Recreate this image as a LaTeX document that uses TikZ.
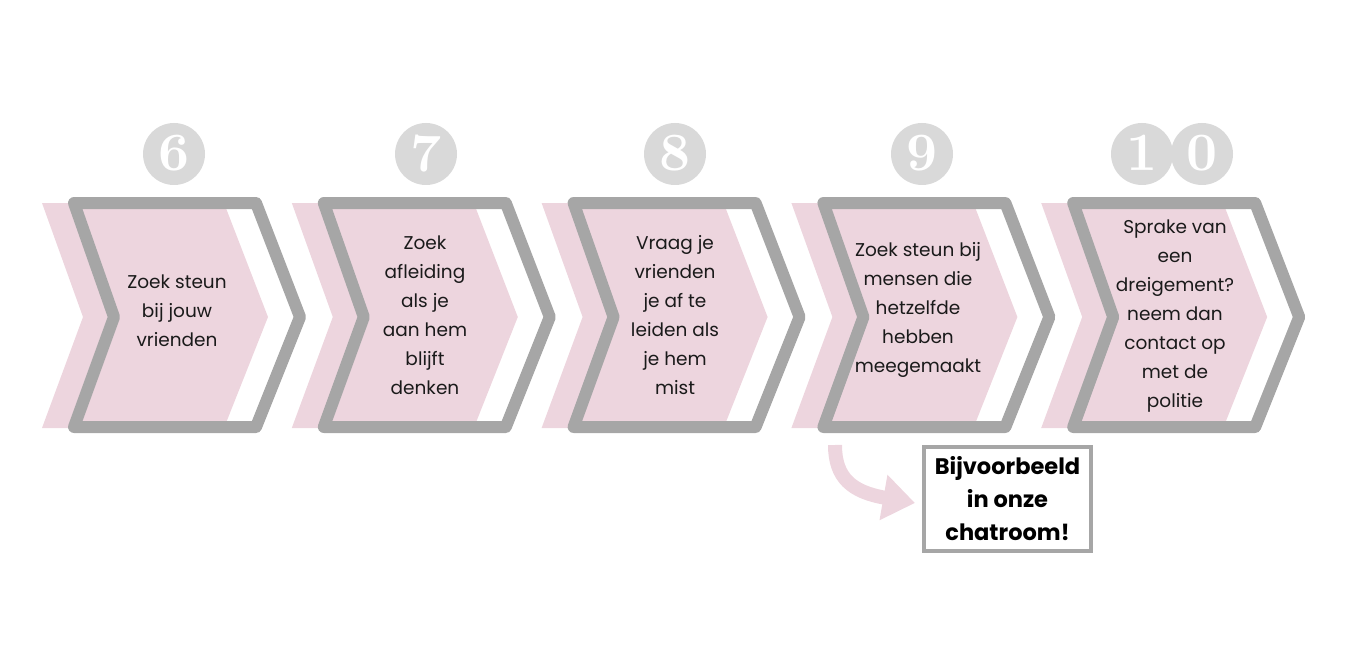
\documentclass[tikz,border=0pt]{standalone}
\usepackage{fontspec}
\setmainfont{Poppins}
\newfontfamily\digitfont{lmroman10-bold.otf}
\usetikzlibrary{arrows.meta}
\definecolor{pk}{HTML}{EDD5DE}
\definecolor{gr}{HTML}{A6A6A6}
\definecolor{cg}{HTML}{D9D9D9}
\definecolor{tx}{HTML}{1A1A1A}
\tikzset{
  pinkchev/.style={fill=pk},
  graychev/.style={draw=gr, line width=12pt, line join=round},
  numcirc/.style={circle, fill=cg, minimum size=62pt, inner sep=0pt, text=white,
    font=\digitfont\fontsize{54}{54}\selectfont},
  steptext/.style={align=center, text=tx, inner sep=0pt, font=\fontsize{18.5}{29}\selectfont},
  notebox/.style={draw=gr, line width=4pt, fill=white, minimum width=167pt, minimum height=104pt,
    align=center, inner sep=0pt, text=black, font=\bfseries\fontsize{22.5}{33}\selectfont},
  pinkarrow/.style={draw=pk, line width=14pt, -{Triangle[length=32pt,width=44pt]}}
}
\begin{document}
\begin{tikzpicture}[x=1pt,y=-1pt]
\useasboundingbox (0,0) rectangle (1350,650);
\foreach \i in {0,...,4}{
  \begin{scope}[xshift=\i*249.8pt]
    \fill[pinkchev] (42,203) -- (224,203) -- (268,317) -- (224,428) -- (42,428) -- (83,317) -- cycle;
    \draw[graychev] (74,203) -- (256,203) -- (300,317) -- (256,427) -- (74,427) -- (114,317) -- cycle;
  \end{scope}
}
\node[numcirc] (n6) at (174,154) {\raisebox{2pt}{6}};
\node[numcirc] (n7) at (426,154) {\raisebox{2pt}{7}};
\node[numcirc] (n8) at (675,154) {\raisebox{2pt}{8}};
\node[numcirc] (n9) at (922,154) {\raisebox{2pt}{9}};
\node[numcirc] (n10a) at (1142,154) {\raisebox{2pt}{1}};
\node[numcirc] (n10b) at (1202,154) {\raisebox{2pt}{0}};

\node[steptext] (t6) at (177,311) {Zoek steun\\bij jouw\\vrienden};
\node[steptext] (t7) at (425,315) {Zoek\\afleiding\\als je\\aan hem\\blijft\\denken};
\node[steptext] (t8) at (675,315) {Vraag je\\vrienden\\je af te\\leiden als\\je hem\\mist};
\node[steptext] (t9) at (918,310) {Zoek steun bij\\mensen die\\hetzelfde\\hebben\\meegemaakt};
\node[steptext] (t10) at (1175,316) {Sprake van\\een\\dreigement?\\neem dan\\contact op\\met de\\politie};

\node[notebox] (box) at (1007.5,499) {Bijvoorbeeld\\in onze\\chatroom!};
\coordinate (astart) at (835,445);
\draw[pinkarrow] (astart) .. controls (835,478) and (852,492) .. ([xshift=-7pt,yshift=-4pt]box.west);
\end{tikzpicture}
\end{document}
